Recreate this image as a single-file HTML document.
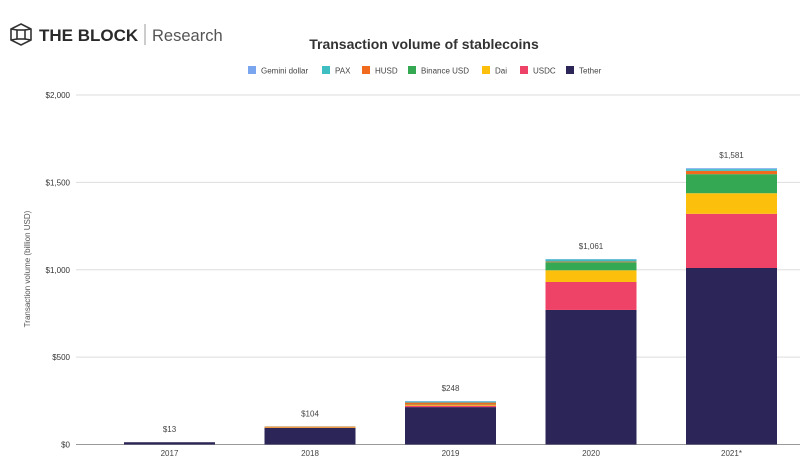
<!DOCTYPE html>
<html><head><meta charset="utf-8"><style>
body{margin:0;background:#fff;width:805px;height:469px;overflow:hidden;font-family:"Liberation Sans",sans-serif;}
</style></head><body>
<svg id="c" width="805" height="469" xmlns="http://www.w3.org/2000/svg">
<g>
<g fill="none" stroke="#333" stroke-width="1.6">
<polygon points="21,24 31,29 31,40 21,45 11,40 11,29"/>
<rect x="17" y="30" width="8" height="9"/>
<line x1="11" y1="29" x2="17" y2="30"/><line x1="31" y1="29" x2="25" y2="30"/>
<line x1="11" y1="40" x2="17" y2="39"/><line x1="31" y1="40" x2="25" y2="39"/>
</g>
<text x="39" y="41" font-size="17" font-weight="bold" fill="#2a2a2a">THE BLOCK</text>
<line x1="145" y1="24" x2="145" y2="45" stroke="#999" stroke-width="1"/>
<text x="152" y="41" font-size="16.5" fill="#555">Research</text>
</g>
<text x="424" y="49" text-anchor="middle" font-size="14" font-weight="bold" fill="#333">Transaction volume of stablecoins</text>
<g id="legend"></g>
<g id="grid"></g>
<g id="bars"></g>
<text transform="translate(30,269) rotate(-90)" text-anchor="middle" font-size="8" fill="#555">Transaction volume (billion USD)</text>
</svg>
<script>
const categories=["2017","2018","2019","2020","2021*"];
const seriesNames=["Tether","USDC","Dai","Binance USD","HUSD","PAX","Gemini dollar"];
const colors=["#2b2558","#ee4266","#fbbf0c","#34a853","#f06b1d","#3fbec2","#7aa6f0"];
const tether=[13,95,214,770,1010];
const usdc=[0,2,8,160,310];
const dai=[0,4,4,67,118];
const busd=[0,0,2,46,109];
const husd=[0,2,12,4,19];
const pax=[0,1,6,12,10];
const gemini=[0,0,2,2,5];
const totals=["$13","$104","$248","$1,061","$1,581"];
const yTicks=[0,500,1000,1500,2000];
const yTickLabels=["$0","$500","$1,000","$1,500","$2,000"];
const series=[tether,usdc,dai,busd,husd,pax,gemini];
const NS="http://www.w3.org/2000/svg";
const y=v=>444.5-v*(349.5/2000);
const x=i=>124+i*140.5;
const bw=91;
function mk(t,a,p){const e=document.createElementNS(NS,t);for(const k in a)e.setAttribute(k,a[k]);p.appendChild(e);return e;}
const grid=document.getElementById('grid');
yTicks.forEach((v,i)=>{
 const l=mk('line',{x1:76,x2:800,y1:y(v),y2:y(v),stroke:i==0?'#999':'#ddd','stroke-width':1},grid);
 
 
 const t=mk('text',{x:70,y:y(v)+3,'text-anchor':'end','font-size':8,fill:'#333'},grid);
 t.textContent=yTickLabels[i];
 
 
});
const bars=document.getElementById('bars');
categories.forEach((c,i)=>{
 let acc=0;
 series.forEach((s,k)=>{
  const v=s[i]; if(v<=0)return;
  const r=mk('rect',{x:x(i),width:bw,y:y(acc+v),height:y(acc)-y(acc+v),fill:colors[k]},bars);
  
  
  acc+=v;
 });
 const t=mk('text',{x:x(i)+bw/2,y:y(acc)-10,'text-anchor':'middle','font-size':8,fill:'#444'},bars);
 t.textContent=totals[i];
 
 
 const xl=mk('text',{x:x(i)+bw/2,y:456,'text-anchor':'middle','font-size':8,fill:'#444'},bars);
 xl.textContent=c;
 
 
});
const legend=document.getElementById('legend');
const legOrder=[6,5,4,3,2,1,0];
const legX=[248,322,362,408,482,520,566];
legOrder.forEach((k,j)=>{
 const g=mk('g',{},legend);
 
 
 mk('rect',{x:legX[j],y:66,width:8,height:8,fill:colors[k]},g);
 const t=mk('text',{x:legX[j]+13,y:73.5,'font-size':8,fill:'#444'},g);
 t.textContent=seriesNames[k];
});
</script>
</body></html>
